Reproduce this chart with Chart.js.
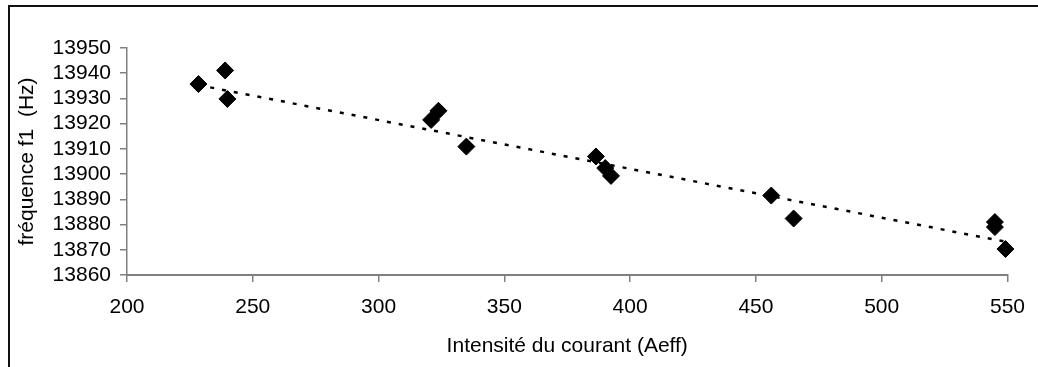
<!DOCTYPE html>
<html>
<head>
<meta charset="utf-8">
<script src="https://cdn.jsdelivr.net/npm/chart.js@4/dist/chart.umd.min.js"></script>
<style>
  html, body { margin: 0; padding: 0; background: #fff; }
  #wrap { position: relative; width: 1038px; height: 367px; overflow: hidden; }
  #c { position: absolute; left: 0; top: 0; }
  #frame { position: absolute; left: 8px; top: 5px; width: 1040px; height: 380px;
           border-top: 2px solid #111; border-left: 2px solid #111; pointer-events: none; }
</style>
</head>
<body>
<div id="wrap">
  <canvas id="c" width="1038" height="367"></canvas>
  <div id="frame"></div>
</div>
<script>
// Measured points: current intensity (Aeff) and frequency f1 (Hz)
const currentA = [228.4, 239.0, 239.9, 320.9, 323.8, 334.9, 386.4, 390.1, 392.4, 456.1, 465.0, 545.0, 545.0, 549.2];
const freqHz   = [13935.7, 13941.1, 13929.8, 13921.5, 13925.1, 13910.9, 13907.0, 13902.4, 13899.3, 13891.5, 13882.4, 13881.0, 13879.0, 13870.3];
// Trend line end points
const trendX = [228.4, 549.2];
const trendY = [13935.3, 13873.2];
// Axis ticks
const xTicks = [200, 250, 300, 350, 400, 450, 500, 550];
const yTicks = [13860, 13870, 13880, 13890, 13900, 13910, 13920, 13930, 13940, 13950];
const xTitle = 'Intensité du courant (Aeff)';
const yTitle = 'fréquence f1  (Hz)';

const FONT = "'Liberation Sans', Arial, sans-serif";

const ctx = document.getElementById('c').getContext('2d');
new Chart(ctx, {
  data: {
    datasets: [
      {
        type: 'scatter',
        data: currentA.map((x, i) => ({ x: x, y: freqHz[i] })),
        pointStyle: 'rectRot',
        pointRadius: 8.5,
        pointHoverRadius: 8.5,
        backgroundColor: '#000',
        borderColor: '#000',
        borderWidth: 1,
        clip: false,
        order: 2
      },
      {
        type: 'line',
        data: trendX.map((x, i) => ({ x: x, y: trendY[i] })),
        borderColor: '#000',
        borderWidth: 2.5,
        borderDash: [4, 8],
        pointRadius: 0,
        fill: false,
        clip: false,
        order: 1
      }
    ]
  },
  options: {
    responsive: false,
    animation: false,
    devicePixelRatio: 1,
    layout: { padding: { left: 0, top: 48, right: 29, bottom: 0 } },
    plugins: { legend: { display: false }, tooltip: { enabled: false } },
    scales: {
      x: {
        type: 'linear',
        position: 'bottom',
        min: xTicks[0],
        max: xTicks[xTicks.length - 1],
        afterBuildTicks: (s) => { s.ticks = xTicks.map(v => ({ value: v })); },
        afterFit: (s) => { s.height = 92; },
        grid: { drawOnChartArea: false, drawTicks: true, tickLength: 7, color: '#808080', lineWidth: 1.5 },
        border: { display: true, color: '#808080', width: 2 },
        ticks: { color: '#000', font: { family: FONT, size: 21 }, padding: 13, maxRotation: 0, autoSkip: false,
                 callback: (v) => String(v) },
        title: { display: true, text: xTitle, color: '#000', font: { family: FONT, size: 21 }, padding: { top: 0, bottom: 8 } }
      },
      y: {
        type: 'linear',
        position: 'left',
        min: yTicks[0],
        max: yTicks[yTicks.length - 1],
        afterBuildTicks: (s) => { s.ticks = yTicks.map(v => ({ value: v })); },
        afterFit: (s) => { s.width = 127; },
        grid: { drawOnChartArea: false, drawTicks: true, tickLength: 7, color: '#808080', lineWidth: 1.5 },
        border: { display: true, color: '#808080', width: 1.5 },
        ticks: { color: '#000', font: { family: FONT, size: 21 }, padding: 9, autoSkip: false,
                 callback: (v) => String(v) },
        title: { display: true, text: yTitle, color: '#000', font: { family: FONT, size: 21 }, padding: { top: 15, bottom: 0 } }
      }
    }
  }
});
</script>
</body>
</html>
